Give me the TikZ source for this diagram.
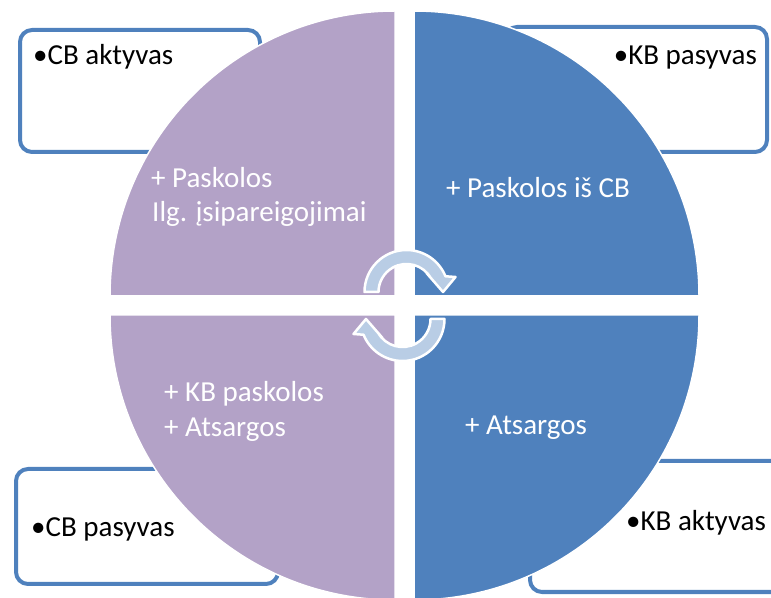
\documentclass[tikz,border=0pt]{standalone}
\usepackage{fontspec}
\setmainfont{Carlito}
\usetikzlibrary{positioning}
\definecolor{lila}{RGB}{179,162,199}
\definecolor{bleu}{RGB}{79,129,189}
\definecolor{flux}{RGB}{185,205,229}

\begin{document}
\begin{tikzpicture}[x=1pt,y=1pt,
      quad/.style ={draw=white,line width=1.5pt},
      coin/.style ={draw=bleu,line width=4pt,rounded corners=12pt,fill=white},
      flow/.style ={fill=flux,draw=white,line width=2.5pt,line join=round},
      btxt/.style ={font=\fontsize{29}{35}\selectfont,inner sep=0pt,anchor=base west},
      qtxt/.style ={btxt,text=white}]
      \useasboundingbox (0,0) rectangle (771,597);
      \clip (0,0) rectangle (771,597);
      % Corner boxes (behind the circle)
      \draw[coin] (20,567) rectangle (260,445);
      \draw[coin] (505,570) rectangle (767,445);
      \draw[coin] (16,128) rectangle (278,13);
      \draw[coin] (530,136) rectangle (790,5);
      % Quadrants
      \def\R{285}
      \foreach \qx/\qy/\a/\c in {395/301/90/lila,414/301/0/bleu,395/282/180/lila,414/282/270/bleu}{
        \filldraw[quad,fill=\c] (\qx,\qy) -- ++(\a:\R) arc[start angle=\a,delta angle=90,radius=\R] -- cycle;}
      % Helper macro: circular arrow around the origin
      \newcommand{\cycarrow}[1]{%
        \draw[flow,#1] (180:42) arc[start angle=180,end angle=22,radius=42]
          -- (49,15) -- (36.5,0) -- (20,19)
          -- (30:28) arc[start angle=30,end angle=180,radius=28] -- cycle;
      }
      \cycarrow{shift={(406.5,305)}}
      \cycarrow{shift={(402.5,278)},rotate=180}
      % Box labels
      \node[btxt] (cba) at (33,532) {•CB aktyvas};
      \node[btxt,anchor=base east] (kbp) at (757,532) {•KB pasyvas};
      \node[btxt] (cbp) at (31,60) {•CB pasyvas};
      \node[btxt] (kba) at (626,66) {•KB aktyvas};
      % Quadrant labels
      \node[qtxt] (tl1) at (151,409) {+ Paskolos};
      \node[qtxt] (tl2) at (152,375) {Ilg. įsipareigojimai};
      \node[qtxt] (tr1) at (446,399) {+ Paskolos iš CB};
      \node[qtxt] (bl1) at (164,195) {+ KB paskolos};
      \node[qtxt] (bl2) at (164,160) {+ Atsargos};
      \node[qtxt] (br1) at (465,162) {+ Atsargos};
  \end{tikzpicture}
\end{document}
